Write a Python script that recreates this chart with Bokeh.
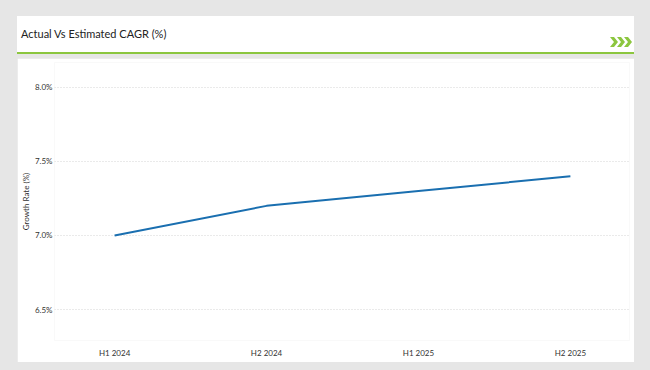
from bokeh.plotting import figure
from bokeh.models import Div, Range1d, FixedTicker, PrintfTickFormatter
from bokeh.layouts import column
from bokeh.embed import file_html
from bokeh.resources import INLINE

# ---- data ----
categories = ["H1 2024", "H2 2024", "H1 2025", "H2 2025"]
growth_rate = [7.0, 7.2, 7.3, 7.4]
y_ticks = [6.5, 7.0, 7.5, 8.0]
title_text = "Actual Vs Estimated CAGR (%)"
y_label = "Growth Rate (%)"

FONT = "Lato"
GREEN = "#8cc63f"
BG = "#e6e6e6"

chev = "".join(
    f'<polygon points="{o},0 {o+4},0 {o+8},5 {o+4},10 {o},10 {o+4},5" fill="{GREEN}"/>'
    for o in (0, 7, 14)
)
header_html = (
    f'<div style="position:relative;width:617px;height:36px;background:#ffffff;">'
    f'<span style="position:absolute;left:4px;top:10px;font-family:{FONT};font-size:11px;'
    f'color:#222222;white-space:nowrap;">{title_text}</span>'
    f'<svg style="position:absolute;left:593px;top:21px" width="23" height="10">{chev}</svg>'
    f'</div>'
)
header = Div(text=header_html, width=617, height=36, margin=(16, 0, 0, 17),
             styles={"background-color": "#ffffff"})
greenbar = Div(text="", width=617, height=2, margin=(0, 0, 4, 17),
               styles={"background-color": GREEN})

xs = list(range(len(categories)))

p = figure(width=617, height=304, output_backend="svg", toolbar_location=None,
           x_range=Range1d(-0.3956, 3.389), y_range=Range1d(6.291, 8.168),
           min_border_left=36, min_border_right=5, min_border_top=4, min_border_bottom=22,
           background_fill_color="#ffffff", border_fill_color="#ffffff",
           outline_line_color=None, margin=(0, 0, 0, 17))

p.line(xs, growth_rate, line_color="#1a6fb0", line_width=2)

p.xaxis.ticker = FixedTicker(ticks=xs)
p.xaxis.major_label_overrides = {i: c for i, c in zip(xs, categories)}
p.yaxis.ticker = FixedTicker(ticks=y_ticks)
p.yaxis.formatter = PrintfTickFormatter(format="%.1f%%")
p.yaxis.axis_label = y_label

for ax in (p.xaxis, p.yaxis):
    ax.axis_line_color = None
    ax.major_tick_line_color = None
    ax.minor_tick_line_color = None
    ax.major_tick_in = 0
    ax.major_tick_out = 0
    ax.minor_tick_in = 0
    ax.minor_tick_out = 0
    ax.major_label_text_font = FONT
    ax.major_label_text_font_size = "8px"
    ax.major_label_text_color = "#333333"
p.xaxis.major_label_standoff = 7
p.yaxis.major_label_standoff = 2
p.yaxis.axis_label_text_font = FONT
p.yaxis.axis_label_text_font_size = "8px"
p.yaxis.axis_label_text_font_style = "normal"
p.yaxis.axis_label_text_color = "#333333"
p.yaxis.axis_label_standoff = 1

p.xgrid.grid_line_color = None
p.ygrid.grid_line_color = "#d4d4d4"
p.ygrid.grid_line_dash = "1 2"
p.ygrid.grid_line_width = 1

layout = column(header, greenbar, p, spacing=0, width=650, height=370,
                styles={"background-color": BG})

open("out.html", "w").write(file_html(layout, INLINE))
